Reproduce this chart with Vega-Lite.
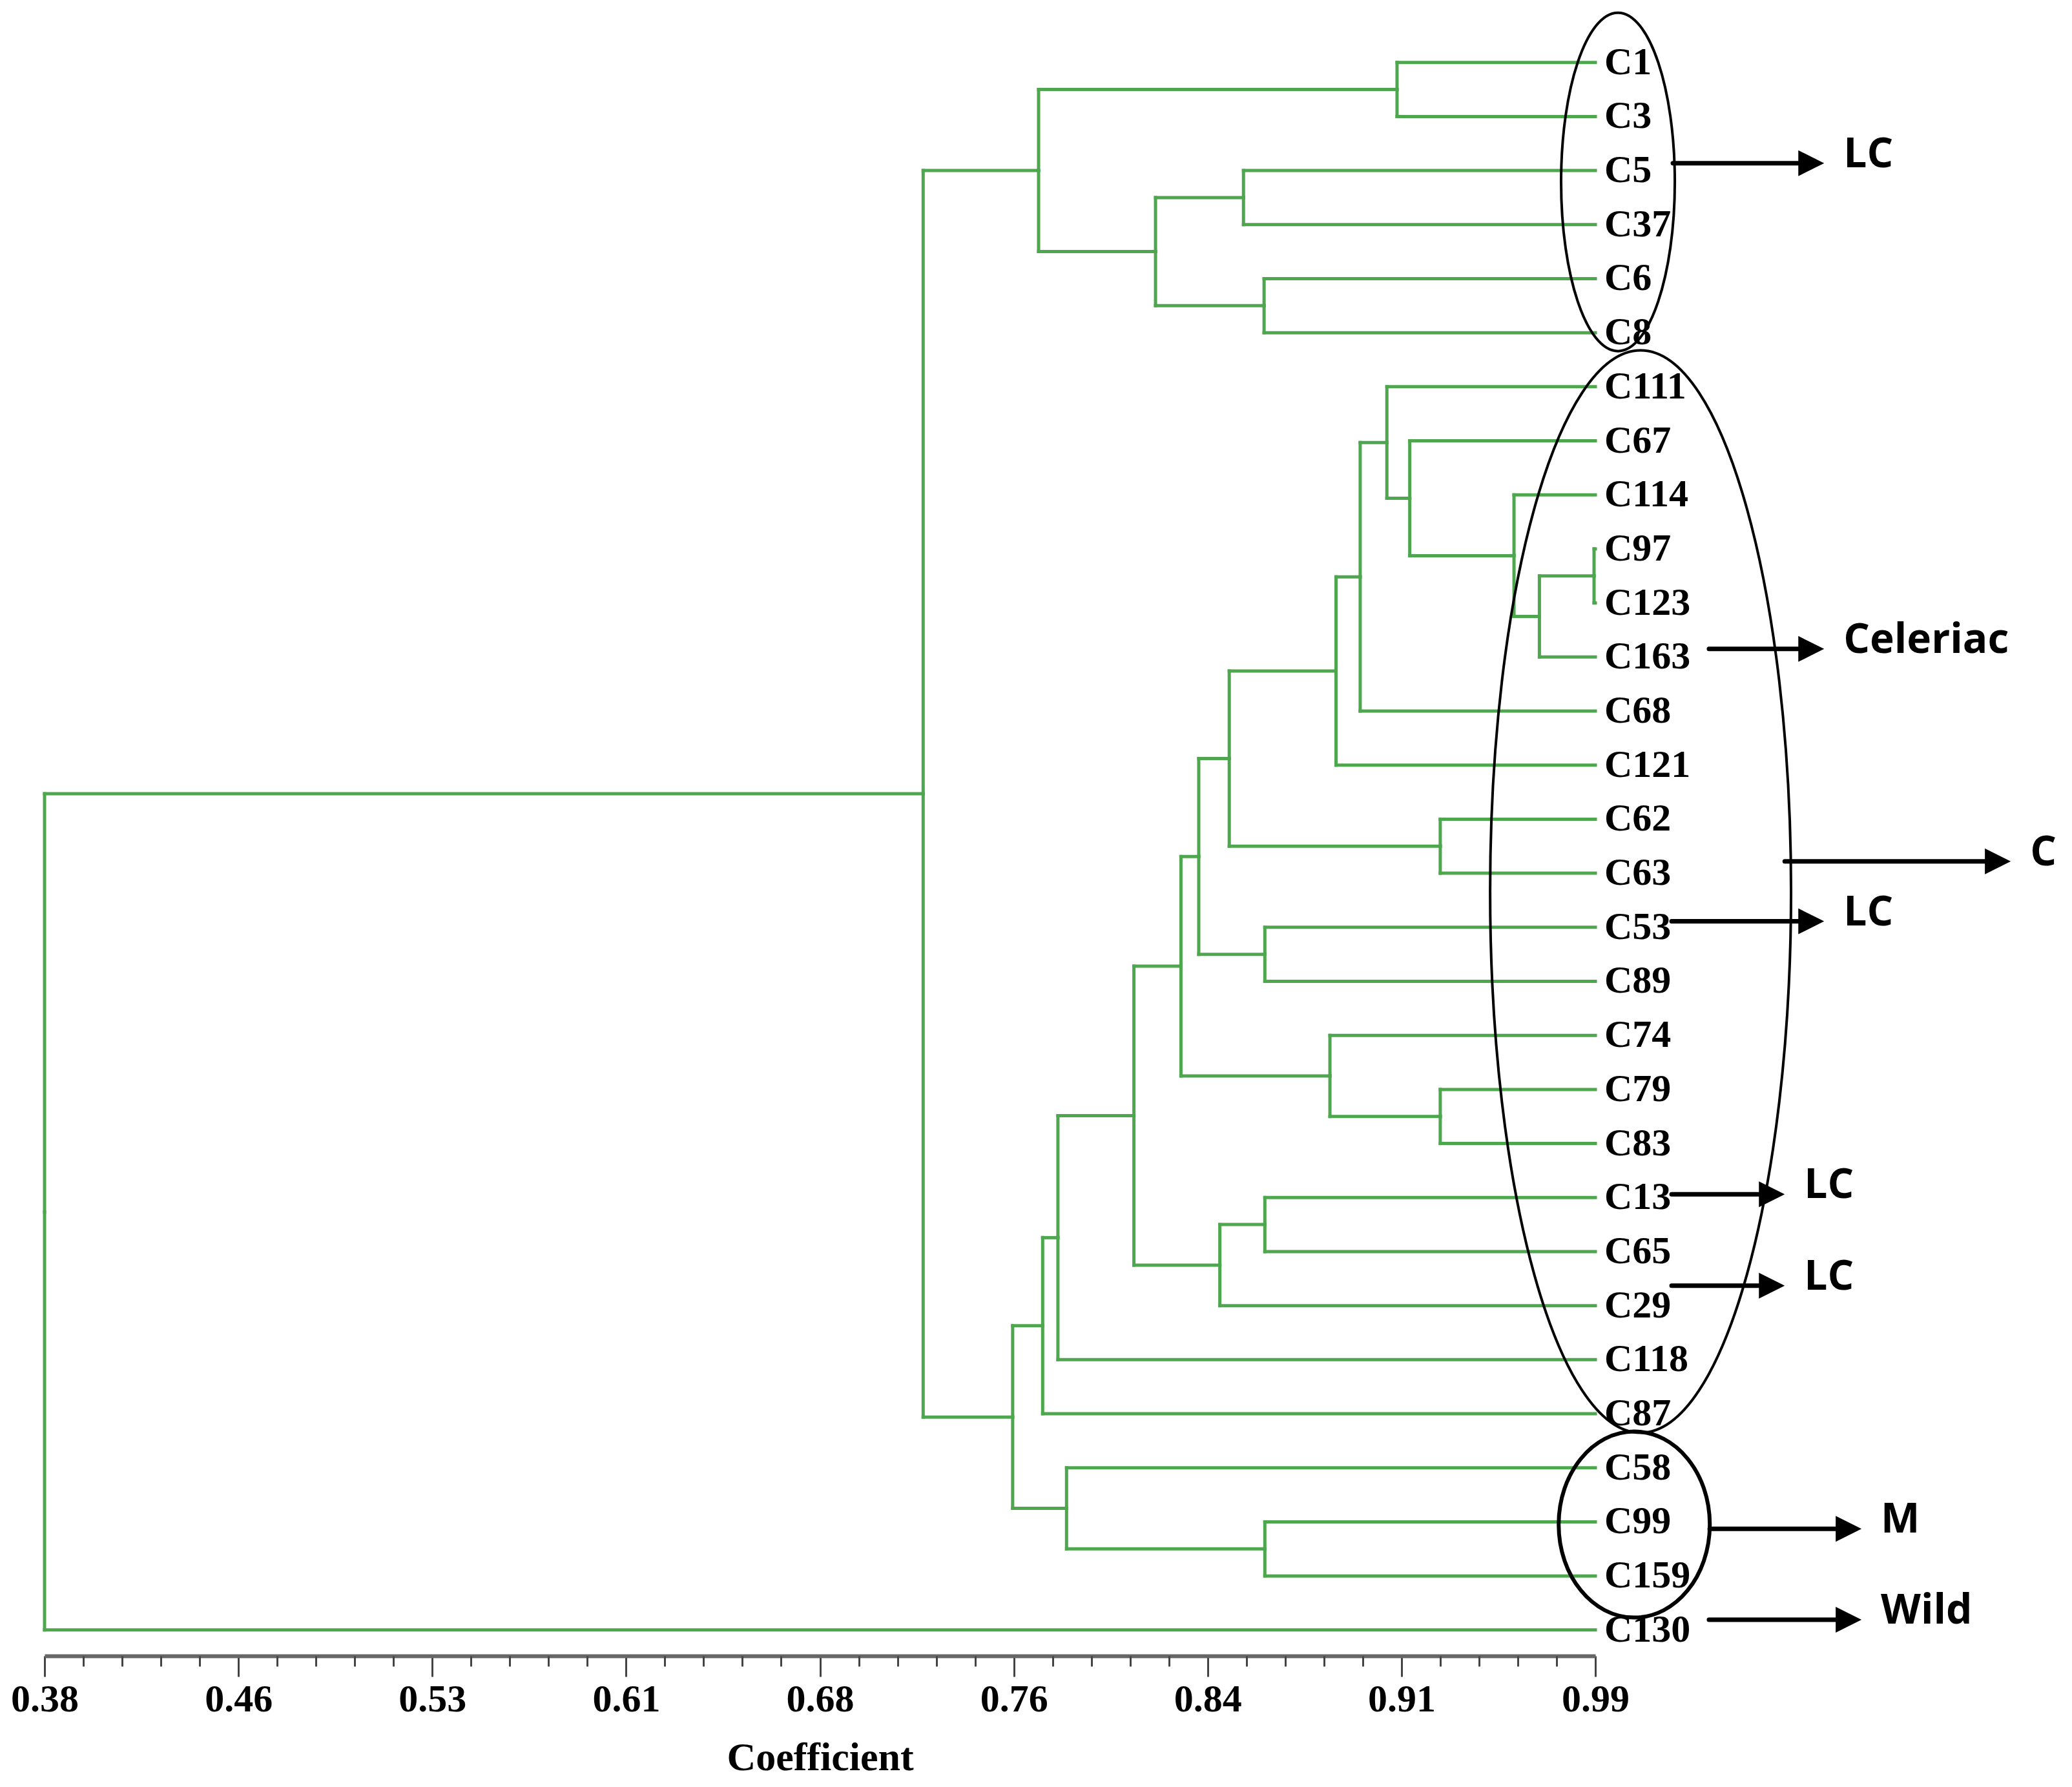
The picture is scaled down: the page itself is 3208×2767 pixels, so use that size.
{
  "$schema": "https://vega.github.io/schema/vega-lite/v6.json",
  "width": 2401,
  "height": 2551,
  "autosize": {"type": "none"},
  "padding": {"left": 69, "top": 13, "right": 738, "bottom": 203},
  "background": "white",
  "config": {"view": {"stroke": null}},
  "resolve": {"axis": {"x": "independent"}},
  "datasets": {
    "nodes": [
      {"id": "C1", "parent": "N1", "h": 0.99, "y": 0},
      {"id": "C3", "parent": "N1", "h": 0.99, "y": 1},
      {"id": "C5", "parent": "N2", "h": 0.99, "y": 2},
      {"id": "C37", "parent": "N2", "h": 0.99, "y": 3},
      {"id": "C6", "parent": "N3", "h": 0.99, "y": 4},
      {"id": "C8", "parent": "N3", "h": 0.99, "y": 5},
      {"id": "C111", "parent": "N10", "h": 0.99, "y": 6},
      {"id": "C67", "parent": "N9", "h": 0.99, "y": 7},
      {"id": "C114", "parent": "N8", "h": 0.99, "y": 8},
      {"id": "C97", "parent": "N6", "h": 0.99, "y": 9},
      {"id": "C123", "parent": "N6", "h": 0.99, "y": 10},
      {"id": "C163", "parent": "N7", "h": 0.99, "y": 11},
      {"id": "C68", "parent": "N11", "h": 0.99, "y": 12},
      {"id": "C121", "parent": "N12", "h": 0.99, "y": 13},
      {"id": "C62", "parent": "N13", "h": 0.99, "y": 14},
      {"id": "C63", "parent": "N13", "h": 0.99, "y": 15},
      {"id": "C53", "parent": "N15", "h": 0.99, "y": 16},
      {"id": "C89", "parent": "N15", "h": 0.99, "y": 17},
      {"id": "C74", "parent": "N18", "h": 0.99, "y": 18},
      {"id": "C79", "parent": "N17", "h": 0.99, "y": 19},
      {"id": "C83", "parent": "N17", "h": 0.99, "y": 20},
      {"id": "C13", "parent": "N20", "h": 0.99, "y": 21},
      {"id": "C65", "parent": "N20", "h": 0.99, "y": 22},
      {"id": "C29", "parent": "N21", "h": 0.99, "y": 23},
      {"id": "C118", "parent": "N23", "h": 0.99, "y": 24},
      {"id": "C87", "parent": "N24", "h": 0.99, "y": 25},
      {"id": "C58", "parent": "N26", "h": 0.99, "y": 26},
      {"id": "C99", "parent": "N25", "h": 0.99, "y": 27},
      {"id": "C159", "parent": "N25", "h": 0.99, "y": 28},
      {"id": "C130", "parent": "N29", "h": 0.99, "y": 29},
      {"id": "N1", "parent": "N5", "h": 0.912, "y": 0.5},
      {"id": "N2", "parent": "N4", "h": 0.8516, "y": 2.5},
      {"id": "N3", "parent": "N4", "h": 0.8597, "y": 4.5},
      {"id": "N4", "parent": "N5", "h": 0.817, "y": 3.5},
      {"id": "N5", "parent": "N28", "h": 0.771, "y": 2.0},
      {"id": "N6", "parent": "N7", "h": 0.9895, "y": 9.5},
      {"id": "N7", "parent": "N8", "h": 0.968, "y": 10.25},
      {"id": "N8", "parent": "N9", "h": 0.958, "y": 9.125},
      {"id": "N9", "parent": "N10", "h": 0.917, "y": 8.0625},
      {"id": "N10", "parent": "N11", "h": 0.908, "y": 7.031},
      {"id": "N11", "parent": "N12", "h": 0.8975, "y": 9.516},
      {"id": "N12", "parent": "N14", "h": 0.888, "y": 11.258},
      {"id": "N13", "parent": "N14", "h": 0.929, "y": 14.5},
      {"id": "N14", "parent": "N16", "h": 0.846, "y": 12.879},
      {"id": "N15", "parent": "N16", "h": 0.86, "y": 16.5},
      {"id": "N16", "parent": "N19", "h": 0.834, "y": 14.69},
      {"id": "N17", "parent": "N18", "h": 0.929, "y": 19.5},
      {"id": "N18", "parent": "N19", "h": 0.8856, "y": 18.75},
      {"id": "N19", "parent": "N22", "h": 0.827, "y": 16.72},
      {"id": "N20", "parent": "N21", "h": 0.86, "y": 21.5},
      {"id": "N21", "parent": "N22", "h": 0.8423, "y": 22.25},
      {"id": "N22", "parent": "N23", "h": 0.8085, "y": 19.485},
      {"id": "N23", "parent": "N24", "h": 0.7786, "y": 21.742},
      {"id": "N24", "parent": "N27", "h": 0.7726, "y": 23.371},
      {"id": "N25", "parent": "N26", "h": 0.86, "y": 27.5},
      {"id": "N26", "parent": "N27", "h": 0.782, "y": 26.75},
      {"id": "N27", "parent": "N28", "h": 0.7608, "y": 25.061},
      {"id": "N28", "parent": "N29", "h": 0.7256, "y": 13.53},
      {"id": "N29", "parent": null, "h": 0.38, "y": 21.27}
    ],
    "arrows": [
      {"label": "LC", "x0": 1.0205, "x1": 1.08, "y": 1.864},
      {"label": "Celeriac", "x0": 1.0347, "x1": 1.08, "y": 10.85},
      {"label": "C", "x0": 1.0645, "x1": 1.1534, "y": 14.78},
      {"label": "LC", "x0": 1.02, "x1": 1.08, "y": 15.89},
      {"label": "LC", "x0": 1.02, "x1": 1.0645, "y": 20.94},
      {"label": "LC", "x0": 1.02, "x1": 1.0645, "y": 22.63},
      {"label": "M", "x0": 1.035, "x1": 1.0947, "y": 27.13},
      {"label": "Wild", "x0": 1.0347, "x1": 1.0947, "y": 28.81}
    ]
  },
  "layer": [
    {
      "data": {"name": "nodes"},
      "transform": [
        {"lookup": "parent", "from": {"data": {"name": "nodes"}, "key": "id", "fields": ["h", "y"]}, "as": ["ph", "py"]},
        {"filter": "datum.parent != null"}
      ],
      "mark": {"type": "rule", "color": "#4ea64e", "strokeWidth": 5, "strokeCap": "square"},
      "encoding": {
        "x": {
          "field": "h", "type": "quantitative",
          "scale": {"domain": [0.38, 0.99], "nice": false, "zero": false},
          "axis": {
            "orient": "bottom",
            "values": [0.38, 0.45625, 0.5325, 0.60875, 0.685, 0.76125, 0.8375, 0.91375, 0.99],
            "grid": false,
            "domain": true, "domainColor": "#666666", "domainWidth": 6,
            "ticks": true, "tickColor": "#444444", "tickWidth": 3, "tickSize": 32,
            "labelExpr": "['0.38','0.46','0.53','0.61','0.68','0.76','0.84','0.91','0.99'][round((datum.value-0.38)/0.07625)]",
            "labelFont": "Liberation Serif", "labelFontSize": 60, "labelFontWeight": "bold", "labelColor": "black",
            "labelPadding": 6, "labelOverlap": false, "labelBound": false, "labelFlush": false,
            "title": "Coefficient",
            "titleFont": "Liberation Serif", "titleFontSize": 62, "titleFontWeight": "bold", "titleColor": "black",
            "titleBaseline": "alphabetic", "titleY": 176
          }
        },
        "x2": {"field": "ph"},
        "y": {"field": "y", "type": "quantitative", "scale": {"domain": [-1, 29.48], "reverse": true, "nice": false, "zero": false}, "axis": null}
      }
    },
    {
      "data": {"name": "nodes"},
      "transform": [
        {"lookup": "parent", "from": {"data": {"name": "nodes"}, "key": "id", "fields": ["h", "y"]}, "as": ["ph", "py"]},
        {"filter": "datum.parent != null"}
      ],
      "mark": {"type": "rule", "color": "#4ea64e", "strokeWidth": 5, "strokeCap": "square"},
      "encoding": {
        "x": {
          "field": "ph", "type": "quantitative",
          "axis": {
            "orient": "bottom",
            "values": [0.39525, 0.4105, 0.42575, 0.441, 0.4715, 0.48675, 0.502, 0.51725, 0.54775, 0.563, 0.57825, 0.5935, 0.624, 0.63925, 0.6545, 0.66975, 0.70025, 0.7155, 0.73075, 0.746, 0.7765, 0.79175, 0.807, 0.82225, 0.85275, 0.868, 0.88325, 0.8985, 0.929, 0.94425, 0.9595, 0.97475],
            "grid": false, "domain": false, "labels": false, "title": null,
            "ticks": true, "tickColor": "#444444", "tickWidth": 3, "tickSize": 16
          }
        },
        "y": {"field": "y", "type": "quantitative", "axis": null},
        "y2": {"field": "py"}
      }
    },
    {
      "data": {"name": "nodes"},
      "transform": [{"filter": "test(/^C/, datum.id)"}],
      "mark": {"type": "text", "align": "left", "baseline": "middle", "dx": 14, "font": "Liberation Serif", "fontSize": 60, "fontWeight": "bold", "color": "black"},
      "encoding": {
        "x": {"field": "h", "type": "quantitative", "axis": null},
        "y": {"field": "y", "type": "quantitative", "axis": null},
        "text": {"field": "id"}
      }
    },
    {
      "data": {"values": [{"group": "LC", "x": 0.9989, "y": 2.21}]},
      "mark": {"type": "point", "shape": "M 0.336 0 C 0.336 0.5523 0.1856 1 0 1 C -0.1856 1 -0.336 0.5523 -0.336 0 C -0.336 -0.5523 -0.1856 -1 0 -1 C 0.1856 -1 0.336 -0.5523 0.336 0 Z", "size": 274576, "filled": false, "color": "black", "strokeWidth": 4, "opacity": 1},
      "encoding": {
        "x": {"field": "x", "type": "quantitative", "axis": null},
        "y": {"field": "y", "type": "quantitative", "axis": null}
      }
    },
    {
      "data": {"values": [{"group": "C", "x": 1.0078, "y": 15.34}]},
      "mark": {"type": "point", "shape": "M 0.278 0 C 0.278 0.5523 0.1535 1 0 1 C -0.1535 1 -0.278 0.5523 -0.278 0 C -0.278 -0.5523 -0.1535 -1 0 -1 C 0.1535 -1 0.278 -0.5523 0.278 0 Z", "size": 2808976, "filled": false, "color": "black", "strokeWidth": 4, "opacity": 1},
      "encoding": {
        "x": {"field": "x", "type": "quantitative", "axis": null},
        "y": {"field": "y", "type": "quantitative", "axis": null}
      }
    },
    {
      "data": {"values": [{"group": "M", "x": 1.0053, "y": 27.05}]},
      "mark": {"type": "point", "shape": "M 0.8125 0 C 0.8125 0.5523 0.4487 1 0 1 C -0.4487 1 -0.8125 0.5523 -0.8125 0 C -0.8125 -0.5523 -0.4487 -1 0 -1 C 0.4487 -1 0.8125 -0.5523 0.8125 0 Z", "size": 82944, "filled": false, "color": "black", "strokeWidth": 6, "opacity": 1},
      "encoding": {
        "x": {"field": "x", "type": "quantitative", "axis": null},
        "y": {"field": "y", "type": "quantitative", "axis": null}
      }
    },
    {
      "data": {"name": "arrows"},
      "mark": {"type": "rule", "color": "black", "strokeWidth": 7, "strokeCap": "round", "x2Offset": -25},
      "encoding": {
        "x": {"field": "x0", "type": "quantitative", "axis": null},
        "x2": {"field": "x1"},
        "y": {"field": "y", "type": "quantitative", "axis": null}
      }
    },
    {
      "data": {"name": "arrows"},
      "mark": {"type": "point", "shape": "M -1 -1 L 1 0 L -1 1 Z", "size": 1600, "filled": true, "color": "black", "opacity": 1, "strokeWidth": 0, "xOffset": -20},
      "encoding": {
        "x": {"field": "x1", "type": "quantitative", "axis": null},
        "y": {"field": "y", "type": "quantitative", "axis": null}
      }
    },
    {
      "data": {"name": "arrows"},
      "mark": {"type": "text", "align": "left", "baseline": "middle", "dx": 30, "dy": -13, "font": "Open Sans", "fontSize": 64, "fontWeight": "bold", "color": "black"},
      "encoding": {
        "x": {"field": "x1", "type": "quantitative", "axis": null},
        "y": {"field": "y", "type": "quantitative", "axis": null},
        "text": {"field": "label"}
      }
    }
  ]
}
